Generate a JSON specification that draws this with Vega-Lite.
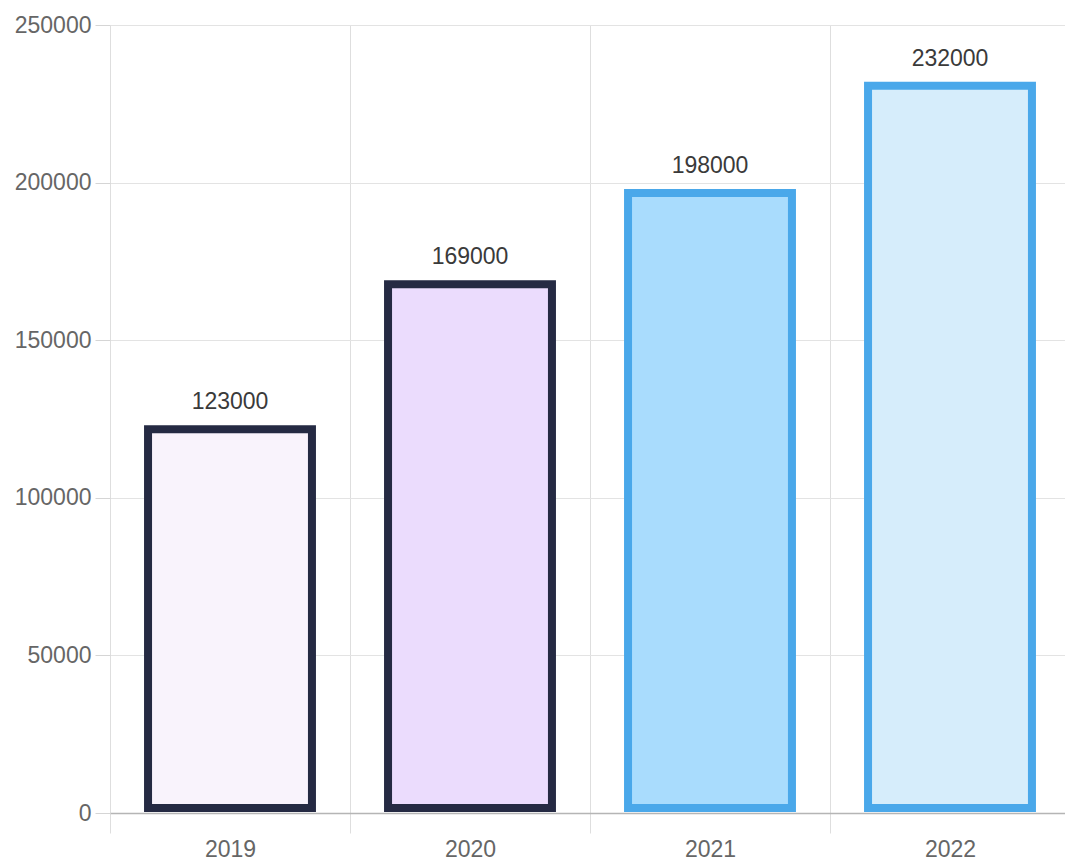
{
  "$schema": "https://vega.github.io/schema/vega-lite/v6.json",
  "autosize": "none",
  "width": 960,
  "height": 788,
  "padding": {"left": 110, "top": 25, "right": 0, "bottom": 47},
  "background": "white",
  "config": {
    "view": {"stroke": null},
    "font": "Liberation Sans"
  },
  "data": {
    "values": [
      {"year": "2019", "value": 123000},
      {"year": "2020", "value": 169000},
      {"year": "2021", "value": 198000},
      {"year": "2022", "value": 232000}
    ]
  },
  "encoding": {
    "x": {
      "field": "year",
      "type": "nominal",
      "sort": null,
      "scale": {"paddingInner": 0, "paddingOuter": 0},
      "axis": {
        "title": null,
        "labelAngle": 0,
        "labelFontSize": 23,
        "labelColor": "#666666",
        "labelPadding": 5,
        "tickBand": "extent",
        "tickSize": 20,
        "tickColor": "#dedede",
        "grid": true,
        "gridColor": "#dedede",
        "domainColor": "#b5b5b5",
        "domainWidth": 1.5
      }
    },
    "y": {
      "field": "value",
      "type": "quantitative",
      "scale": {"domain": [0, 250000], "nice": false},
      "axis": {
        "title": null,
        "values": [0, 50000, 100000, 150000, 200000, 250000],
        "format": "d",
        "labelFontSize": 23,
        "labelColor": "#666666",
        "labelPadding": 4,
        "tickSize": 15,
        "tickColor": "#d5d5d5",
        "gridColor": "#e3e3e3",
        "domain": false
      }
    }
  },
  "layer": [
    {
      "mark": {
        "type": "bar",
        "width": {"band": 0.683},
        "strokeWidth": 8,
        "yOffset": 4,
        "y2Offset": -5,
        "fillOpacity": 1
      },
      "encoding": {
        "y2": {"datum": 0},
        "fill": {
          "field": "year",
          "type": "nominal",
          "scale": {"domain": ["2019", "2020", "2021", "2022"], "range": ["#f9f3fc", "#ebdcfd", "#a9dcfd", "#d6edfb"]},
          "legend": null
        },
        "stroke": {
          "field": "year",
          "type": "nominal",
          "scale": {"domain": ["2019", "2020", "2021", "2022"], "range": ["#252a43", "#252a43", "#4aa8ea", "#4aa8ea"]},
          "legend": null
        }
      }
    },
    {
      "mark": {
        "type": "text",
        "baseline": "alphabetic",
        "dy": -16,
        "fontSize": 23,
        "color": "#3a3a3a"
      },
      "encoding": {
        "text": {"field": "value", "type": "quantitative", "format": "d"}
      }
    }
  ]
}
